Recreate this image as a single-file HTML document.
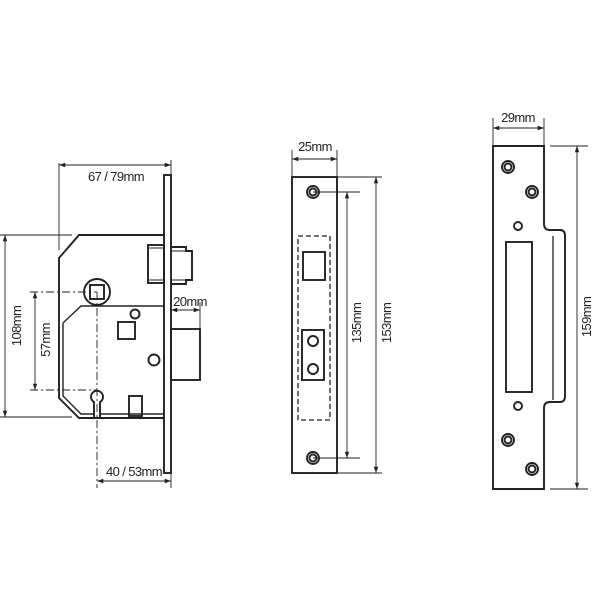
<!DOCTYPE html>
<html><head><meta charset="utf-8"><style>
html,body{margin:0;padding:0;background:#fff;}
svg{display:block;}
text{font-family:"Liberation Sans",sans-serif;font-size:13px;letter-spacing:-0.6px;fill:#222;}
</style></head><body>
<svg width="600" height="600" viewBox="0 0 600 600" xmlns="http://www.w3.org/2000/svg">
<defs>
<marker id="a" viewBox="0 0 10 10" refX="10" refY="5" markerWidth="7" markerHeight="7" orient="auto-start-reverse"><path d="M0,1.5 L10,5 L0,8.5 z" fill="#222"/></marker>
</defs>
<g fill="none" stroke="#222" stroke-width="1.9">
<rect x="164" y="175" width="7" height="298" fill="#fff"/>
<path d="M164,235 H79 L59,258 V398 L79,418 H164"/>
<path d="M164,306 H81 L63,323 V396 L81,414 H164" stroke-width="1.4"/>
<rect x="148" y="245" width="16" height="38"/>
<line x1="148" y1="248" x2="164" y2="248" stroke-width="1"/>
<line x1="148" y1="280" x2="164" y2="280" stroke-width="1"/>
<path d="M171,247 H186 V251 H192 V280 H186 V284 H171"/>
<line x1="171" y1="251" x2="186" y2="251" stroke-width="1"/>
<line x1="171" y1="280" x2="186" y2="280" stroke-width="1"/>
<rect x="171" y="329" width="29" height="51"/>
<circle cx="97" cy="292" r="13" fill="#fff"/>
<rect x="90" y="285" width="14" height="14"/>
<circle cx="135" cy="314" r="4.5"/>
<rect x="118" y="322" width="17" height="17"/>
<circle cx="154" cy="360" r="5.5"/>
<path d="M94,402 A6,6 0 1 1 100,402 V418 H94 Z" fill="#fff"/>
<rect x="129" y="396" width="13" height="20"/>
<rect x="292" y="177" width="45" height="296"/>
<circle cx="313" cy="192" r="6"/><circle cx="313" cy="192" r="3.5"/>
<circle cx="313" cy="458" r="6"/><circle cx="313" cy="458" r="3.5"/>
<rect x="298" y="236" width="32" height="184" stroke-dasharray="5,3" stroke-width="1.3"/>
<rect x="303" y="252" width="22" height="28"/>
<rect x="302" y="330" width="22" height="50"/>
<circle cx="313" cy="341" r="5"/><circle cx="313" cy="369" r="5"/>
<path d="M493,146 H544 V224 Q544,230 550,230 H560 Q565,230 565,236 V396 Q565,402 560,402 H550 Q544,402 544,408 V489 H493 Z"/>
<line x1="553" y1="236" x2="553" y2="400" stroke-width="1.3"/>
<rect x="506" y="242" width="26" height="150"/>
<circle cx="508" cy="167" r="6"/><circle cx="508" cy="167" r="3.5"/>
<circle cx="532" cy="192" r="6"/><circle cx="532" cy="192" r="3.5"/>
<circle cx="518" cy="226" r="4"/>
<circle cx="518" cy="406" r="4"/>
<circle cx="508" cy="440" r="6"/><circle cx="508" cy="440" r="3.5"/>
<circle cx="532" cy="469" r="6"/><circle cx="532" cy="469" r="3.5"/>
</g>
<g fill="none" stroke="#222" stroke-width="0.9">
<line x1="59" y1="163" x2="59" y2="250"/>
<line x1="171" y1="160" x2="171" y2="175"/>
<line x1="59" y1="165" x2="171" y2="165" marker-start="url(#a)" marker-end="url(#a)"/>
<line x1="0" y1="235" x2="72" y2="235"/>
<line x1="0" y1="417" x2="72" y2="417"/>
<line x1="5" y1="235" x2="5" y2="417" marker-start="url(#a)" marker-end="url(#a)"/>
<line x1="30" y1="292" x2="97" y2="292" stroke-dasharray="8,3,2,3"/>
<line x1="30" y1="390" x2="97" y2="390" stroke-dasharray="8,3,2,3"/>
<line x1="97" y1="292" x2="97" y2="488" stroke-dasharray="8,3,2,3"/>
<line x1="35" y1="292" x2="35" y2="390" marker-start="url(#a)" marker-end="url(#a)"/>
<line x1="97" y1="481" x2="171" y2="481" marker-start="url(#a)" marker-end="url(#a)"/>
<line x1="171" y1="473" x2="171" y2="488"/>
<line x1="200" y1="302" x2="200" y2="329"/>
<line x1="171" y1="310" x2="200" y2="310" marker-start="url(#a)" marker-end="url(#a)"/>
<line x1="292" y1="150" x2="292" y2="176"/>
<line x1="337" y1="150" x2="337" y2="176"/>
<line x1="292" y1="159" x2="337" y2="159" marker-start="url(#a)" marker-end="url(#a)"/>
<line x1="313" y1="192" x2="360" y2="192"/>
<line x1="313" y1="458" x2="360" y2="458"/>
<line x1="347" y1="192" x2="347" y2="458" marker-start="url(#a)" marker-end="url(#a)"/>
<line x1="338" y1="177" x2="382" y2="177"/>
<line x1="338" y1="473" x2="382" y2="473"/>
<line x1="376" y1="177" x2="376" y2="473" marker-start="url(#a)" marker-end="url(#a)"/>
<line x1="493" y1="118" x2="493" y2="145"/>
<line x1="544" y1="118" x2="544" y2="145"/>
<line x1="493" y1="128" x2="544" y2="128" marker-start="url(#a)" marker-end="url(#a)"/>
<line x1="550" y1="146" x2="588" y2="146"/>
<line x1="550" y1="489" x2="588" y2="489"/>
<line x1="577" y1="146" x2="577" y2="489" marker-start="url(#a)" marker-end="url(#a)"/>
</g>
<text x="116" y="181" text-anchor="middle">67 / 79mm</text>
<text x="134" y="476" text-anchor="middle">40 / 53mm</text>
<text x="190" y="306" text-anchor="middle">20mm</text>
<text transform="translate(21,326) rotate(-90)" text-anchor="middle">108mm</text>
<text transform="translate(50,340) rotate(-90)" text-anchor="middle">57mm</text>
<text x="315" y="151" text-anchor="middle">25mm</text>
<text transform="translate(361,323) rotate(-90)" text-anchor="middle">135mm</text>
<text transform="translate(391,323) rotate(-90)" text-anchor="middle">153mm</text>
<text x="518" y="122" text-anchor="middle">29mm</text>
<text transform="translate(591,317) rotate(-90)" text-anchor="middle">159mm</text>
</svg>
</body></html>
